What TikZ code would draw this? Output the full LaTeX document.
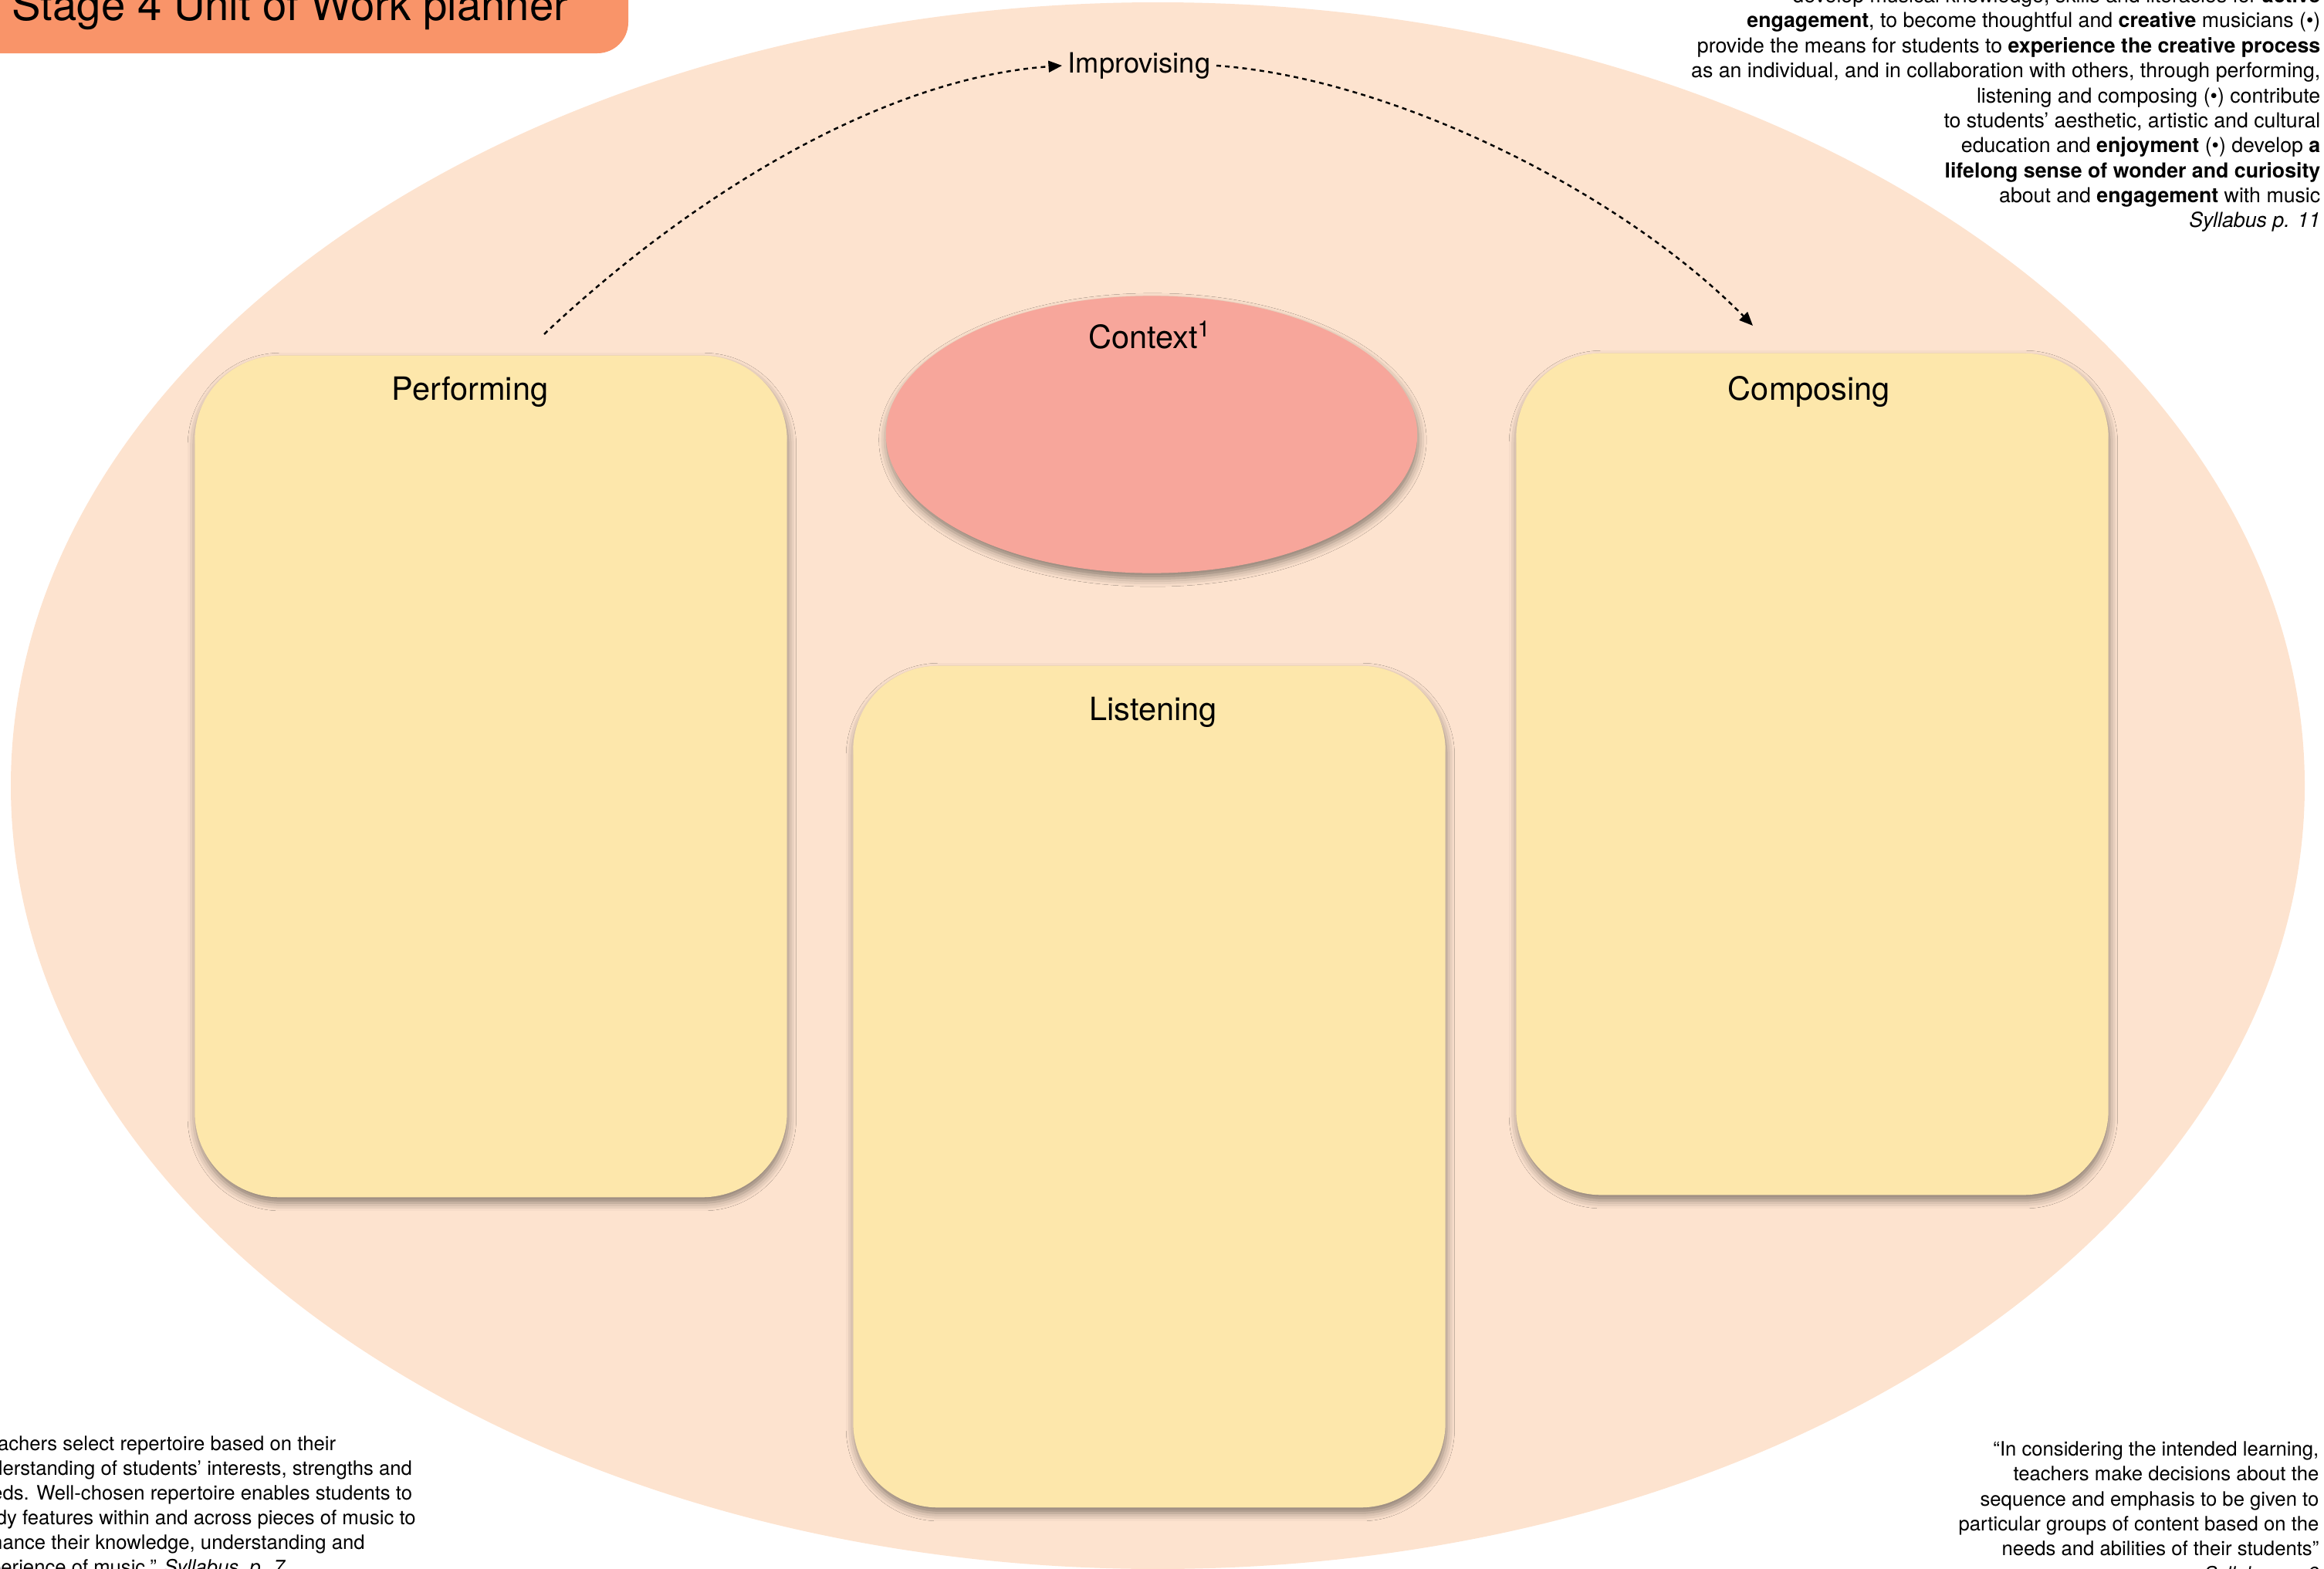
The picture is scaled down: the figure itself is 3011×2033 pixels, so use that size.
\documentclass[tikz,border=0pt]{standalone}
\usepackage{fontspec}
\setmainfont{TeX Gyre Heros}
\usepackage{tikz}
\usetikzlibrary{arrows.meta,shapes.geometric,shadows.blur}
\usepackage{xcolor}
\definecolor{Peach}{HTML}{FDE3CF}
\definecolor{Butter}{HTML}{FDE7AB}
\definecolor{Salmon}{HTML}{F7A69B}
\definecolor{Tangerine}{HTML}{F99469}
\newcommand{\syl}{\textit}

\tikzset{
  softshadow/.style={blur shadow={shadow xshift=0.4pt,shadow yshift=-2pt,shadow blur radius=3pt,shadow opacity=45}},
  areabox/.style={fill=Butter,rounded corners=1.1cm,minimum width=7.67cm,minimum height=10.9cm,inner sep=0pt,softshadow},
  ctxshape/.style={ellipse,fill=Salmon,minimum width=6.88cm,minimum height=3.59cm,inner sep=0pt,softshadow},
  arealabel/.style={font=\fontsize{11.8}{14}\selectfont},
  improv/.style={line width=0.7pt,dash pattern=on 1.7pt off 1.5pt,-{Triangle[length=5pt,width=4.2pt]}},
  quotetext/.style={inner sep=0pt,font=\fontsize{7.3}{9.1}\selectfont}
}

\begin{document}
\begin{tikzpicture}[x=0.01cm,y=-0.01cm]
    \useasboundingbox (0,0) rectangle (3011,2033);
    \clip (0,0) rectangle (3011,2033);

    \fill[Peach] (1500,1018) ellipse [x radius=1486,y radius=1015];

    \fill[Tangerine,rounded corners=0.4cm] (-60,-60) rectangle (814,69);
    \node[anchor=base west,inner sep=0pt,font=\fontsize{16}{19}\selectfont] (title) at (15,26) {Stage 4 Unit of Work planner};

    \node[areabox] (perf) at (636,1006) {};
    \node[areabox] (lis) at (1489,1408) {};
    \node[areabox] (comp) at (2348,1003) {};
    \node[ctxshape] (ctx) at (1492,563) {};

    \node[arealabel] (perflab) at (609,508) {Performing};
    \node[arealabel] (lislab) at (1494,923) {Listening};
    \node[arealabel] (complab) at (2344,508) {Composing};
    \node[arealabel] (ctxlab) at (1490,434) {Context\textsuperscript{1}};

    \node[inner sep=2pt,font=\fontsize{10.3}{12}\selectfont] (improv) at (1476,85) {Improvising};
    \draw[improv] ([shift={(69,-27)}]perf.north) .. controls +(195,-184) and +(-229,16) .. (improv.west);
    \draw[improv] (improv.east) .. controls +(226,16) and +(-171,-174) .. ([shift={(-77,-35)}]comp.north);

    \node[anchor=north east,align=right,inner sep=0pt,font=\fontsize{7.6}{9.2}\selectfont] (aims) at (3007,-17)
      {develop musical knowledge, skills and literacies for \textbf{active}\\
       \textbf{engagement}, to become thoughtful and \textbf{creative} musicians (•)\\
       provide the means for students to \textbf{experience the creative process}\\
       as an individual, and in collaboration with others, through performing,\\
       listening and composing (•) contribute\\
       to students’ aesthetic, artistic and cultural\\
       education and \textbf{enjoyment} (•) develop \textbf{a}\\
       \textbf{lifelong sense of wonder and curiosity}\\
       about and \textbf{engagement} with music\\
       \syl{Syllabus p. 11}};

    \node[quotetext,anchor=north west,align=left] (repq) at (-40,1860)
      {“Teachers select repertoire based on their\\
       understanding of students’ interests, strengths and\\
       needs. Well-chosen repertoire enables students to\\
       study features within and across pieces of music to\\
       enhance their knowledge, understanding and\\
       experience of music.” \syl{Syllabus, p. 7}};

    \node[quotetext,anchor=north east,align=right,font=\fontsize{7.3}{9.2}\selectfont] (seqq) at (3005,1867)
      {“In considering the intended learning,\\
       teachers make decisions about the\\
       sequence and emphasis to be given to\\
       particular groups of content based on the\\
       needs and abilities of their students”\\
       \syl{Syllabus p. 9}};
\end{tikzpicture}
\end{document}
